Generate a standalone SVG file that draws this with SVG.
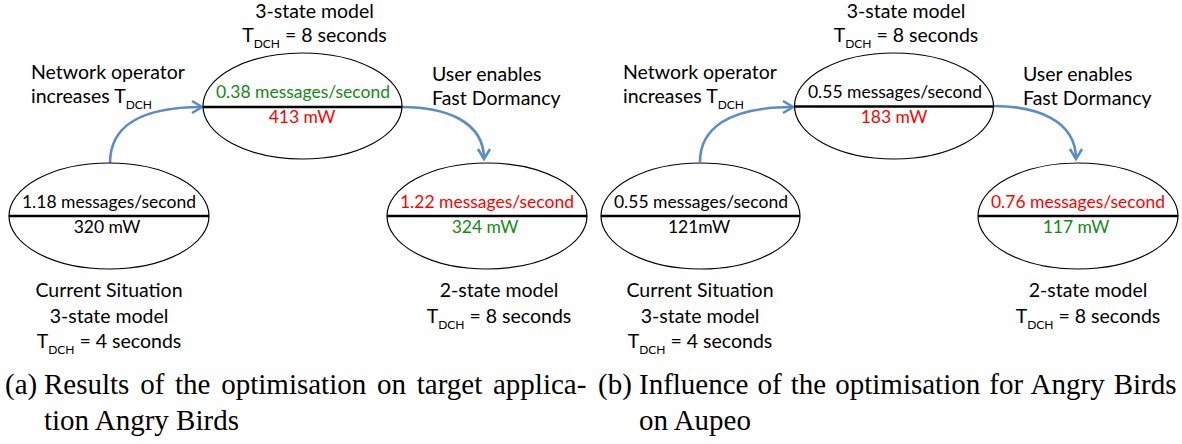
<svg xmlns="http://www.w3.org/2000/svg" width="1182" height="444" viewBox="0 0 1182 444">
<style>
  .n { font-family: Lato, "Open Sans", "Liberation Sans", sans-serif; font-size: 17.5px; text-anchor: middle; fill: #000; }
  .l { font-family: Lato, "Open Sans", "Liberation Sans", sans-serif; font-size: 19.5px; fill: #000; }
  .c { text-anchor: middle; }
  .sub { font-size: 12px; }
  .g { fill: #138A13; }
  .r { fill: #FF0000; }
  .e { fill: #fff; stroke: #000; stroke-width: 1.2; }
  .d { stroke: #000; stroke-width: 2.4; }
  .conn { fill: none; stroke: #5B8CC8; stroke-width: 2.6; marker-end: url(#ah); }
  .cap { font-family: "Liberation Serif", "Times New Roman", serif; font-size: 29px; fill: #000; }
</style>
<defs>
  <marker id="ah" markerUnits="userSpaceOnUse" viewBox="0 0 12 14" markerWidth="12" markerHeight="14" refX="11" refY="7" orient="auto" overflow="visible">
    <path d="M1,1 L11,7 L1,13" fill="none" stroke="#5B8CC8" stroke-width="2.6" stroke-linejoin="miter"/>
  </marker>
</defs>

<!-- Panel (a) -->
<g id="panel-a">
  <g id="connectors-a">
    <path class="conn" d="M110,163 C110,130 135,107 202,107"/>
    <path class="conn" d="M402,107 C445,107 484,121 484,159"/>
  </g>
  <g id="a-top">
    <ellipse class="e" cx="302.5" cy="106" rx="99.5" ry="53"/>
    <line class="d" x1="203" y1="107" x2="402" y2="107"/>
    <text class="n g" x="303" y="98">0.38 messages/second</text>
    <text class="n r" x="302" y="123">413 mW</text>
    <text class="l c" x="314.5" y="18">3-state model</text>
    <text class="l c" x="314.5" y="42">T<tspan class="sub" dy="6">DCH</tspan><tspan dy="-6"> = 8 seconds</tspan></text>
  </g>
  <g id="a-left">
    <ellipse class="e" cx="109" cy="216" rx="100" ry="53"/>
    <line class="d" x1="9" y1="216" x2="209" y2="216"/>
    <text class="n" x="109" y="208">1.18 messages/second</text>
    <text class="n" x="107" y="233">320 mW</text>
    <text class="l c" x="109" y="297">Current Situation</text>
    <text class="l c" x="109" y="323">3-state model</text>
    <text class="l c" x="109" y="348">T<tspan class="sub" dy="6">DCH</tspan><tspan dy="-6"> = 4 seconds</tspan></text>
  </g>
  <g id="a-right">
    <ellipse class="e" cx="487" cy="216" rx="100" ry="53"/>
    <line class="d" x1="387" y1="216" x2="587" y2="216"/>
    <text class="n r" x="487" y="208">1.22 messages/second</text>
    <text class="n g" x="485" y="233">324 mW</text>
    <text class="l c" x="499" y="297">2-state model</text>
    <text class="l c" x="499" y="323">T<tspan class="sub" dy="6">DCH</tspan><tspan dy="-6"> = 8 seconds</tspan></text>
  </g>
  <g id="a-labels">
    <text class="l" x="31" y="79">Network operator</text>
    <text class="l" x="31" y="103">increases T<tspan class="sub" dy="6">DCH</tspan></text>
    <text class="l" x="432" y="81">User enables</text>
    <text class="l" x="432" y="105">Fast Dormancy</text>
  </g>
</g>

<!-- Panel (b) -->
<g id="panel-b">
  <g id="connectors-b">
    <path class="conn" d="M700,162 C700,130 726,107 793,107"/>
    <path class="conn" d="M993,106 C1036,106 1076,120 1076,159"/>
  </g>
  <g id="b-top">
    <ellipse class="e" cx="894" cy="106" rx="99.5" ry="53"/>
    <line class="d" x1="795" y1="106.5" x2="993" y2="106.5"/>
    <text class="n" x="895" y="98">0.55 messages/second</text>
    <text class="n r" x="894" y="123">183 mW</text>
    <text class="l c" x="906" y="18">3-state model</text>
    <text class="l c" x="906" y="42">T<tspan class="sub" dy="6">DCH</tspan><tspan dy="-6"> = 8 seconds</tspan></text>
  </g>
  <g id="b-left">
    <ellipse class="e" cx="700.5" cy="216" rx="99.5" ry="53"/>
    <line class="d" x1="601" y1="216" x2="800" y2="216"/>
    <text class="n" x="701" y="208">0.55 messages/second</text>
    <text class="n" x="699" y="233">121mW</text>
    <text class="l c" x="700" y="297">Current Situation</text>
    <text class="l c" x="700" y="323">3-state model</text>
    <text class="l c" x="700" y="348">T<tspan class="sub" dy="6">DCH</tspan><tspan dy="-6"> = 4 seconds</tspan></text>
  </g>
  <g id="b-right">
    <ellipse class="e" cx="1078" cy="216" rx="100" ry="53"/>
    <line class="d" x1="978" y1="216" x2="1178" y2="216"/>
    <text class="n r" x="1078" y="208">0.76 messages/second</text>
    <text class="n g" x="1076" y="233">117 mW</text>
    <text class="l c" x="1088" y="297">2-state model</text>
    <text class="l c" x="1088" y="323">T<tspan class="sub" dy="6">DCH</tspan><tspan dy="-6"> = 8 seconds</tspan></text>
  </g>
  <g id="b-labels">
    <text class="l" x="623" y="79">Network operator</text>
    <text class="l" x="623" y="103">increases T<tspan class="sub" dy="6">DCH</tspan></text>
    <text class="l" x="1023" y="81">User enables</text>
    <text class="l" x="1023" y="105">Fast Dormancy</text>
  </g>
</g>

<!-- Captions -->
<g id="captions">
  <text class="cap" x="5" y="394">(a)</text>
  <text class="cap" x="44" y="394" word-spacing="3.5">Results of the optimisation on target applica-</text>
  <text class="cap" x="44" y="430">tion Angry Birds</text>
  <text class="cap" x="598" y="394">(b)</text>
  <text class="cap" x="639" y="394" word-spacing="1.8">Influence of the optimisation for Angry Birds</text>
  <text class="cap" x="639" y="430">on Aupeo</text>
</g>
</svg>
